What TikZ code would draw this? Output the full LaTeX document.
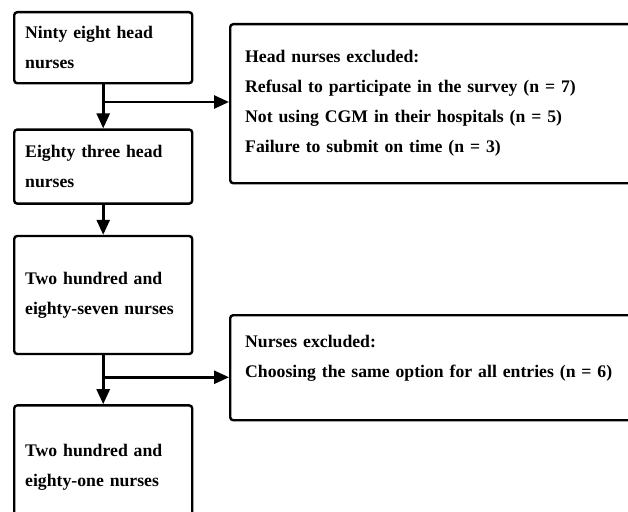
\documentclass[tikz,border=0pt]{standalone}
\usepackage{fontspec}
\setmainfont{Liberation Serif}
\usetikzlibrary{arrows.meta,calc,positioning}

\begin{document}
\begin{tikzpicture}[
  x=1pt,y=-1pt,
  box/.style={draw,line width=2.4pt,rounded corners=3pt,align=left,anchor=north west,inner xsep=11pt,font=\bfseries\fontsize{17.7}{30}\selectfont},
  stage/.style={box,minimum width=178pt,text width=156pt},
  excl/.style={box,minimum width=430pt,text width=400pt},
  arrow/.style={-{Triangle[length=15pt,width=13pt]},line width=2.6pt}
]
  \useasboundingbox (0,0) rectangle (628,511);
  \clip (0,0) rectangle (628,511);
  % left column
  \node[stage,minimum height=71pt] (head98) at (13,11) {Ninty eight head\\nurses};
  \node[stage,minimum height=74pt,below=44pt of head98] (head83) {Eighty three head\\nurses};
  \node[stage,minimum height=118pt,below=30pt of head83] (nurse287) {Two hundred and\\eighty-seven nurses};
  \node[stage,minimum height=124pt,below=49pt of nurse287] (nurse281) {Two hundred and\\eighty-one nurses};
  % exclusions
  \node[excl,minimum height=159pt] (headex) at (229,23) {Head nurses excluded:\\Refusal to participate in the survey (n = 7)\\Not using CGM in their hospitals (n = 5)\\Failure to submit on time (n = 3)};
  \node[excl,minimum height=105pt] (nurseex) at (229,314) {Nurses excluded:\\Choosing the same option for all entries (n = 6)\\[-8pt]\mbox{}};
  \coordinate (fork1) at ($(head98.south)!0.4!(head83.north)$);
  \coordinate (fork2) at ($(nurse287.south)!0.45!(nurse281.north)$);
  \draw[arrow] (head98) -- (head83);
  \draw[arrow] (head83) -- (nurse287);
  \draw[arrow] (nurse287) -- (nurse281);
  \draw[arrow] (fork1) -- (fork1 -| headex.west);
  \draw[arrow] (fork2) -- (fork2 -| nurseex.west);
\end{tikzpicture}
\end{document}
